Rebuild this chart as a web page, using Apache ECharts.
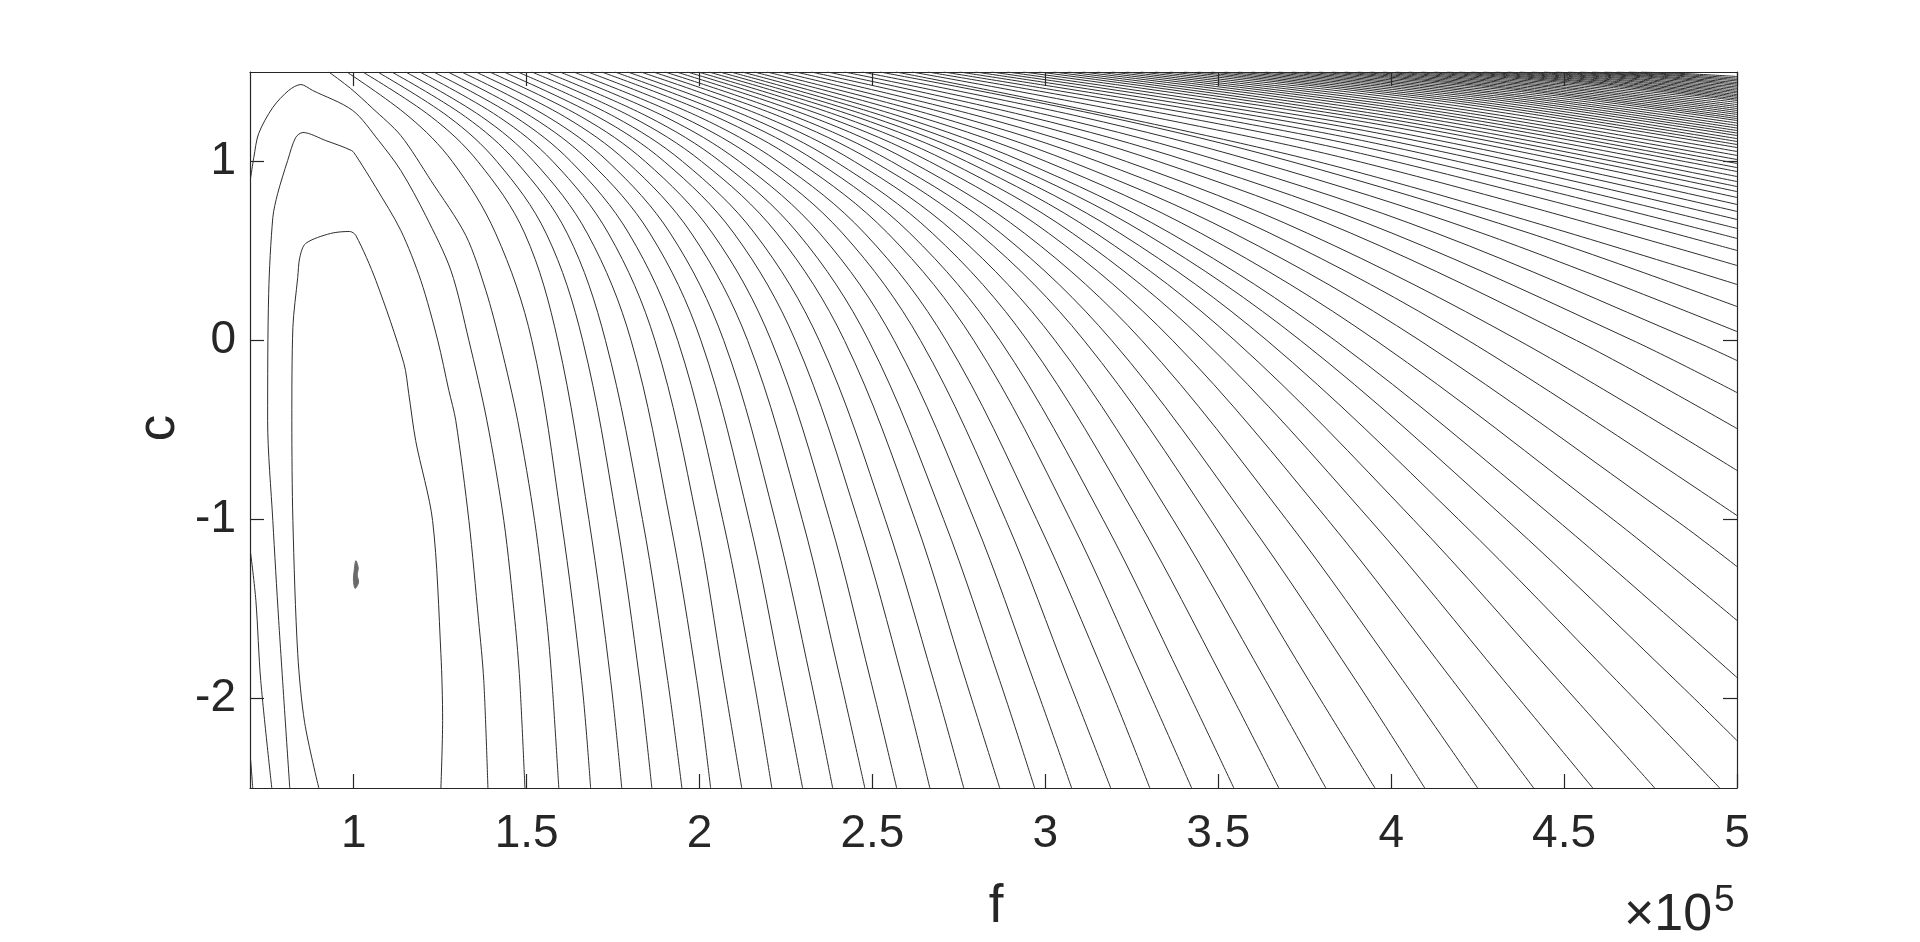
<!DOCTYPE html>
<html>
<head>
<meta charset="utf-8">
<title>f - c contour</title>
<script src="https://cdn.jsdelivr.net/npm/echarts@6/dist/echarts.min.js"></script>
<style>
  html, body { margin: 0; padding: 0; background: #fff; }
  #main { width: 1920px; height: 942px; }
</style>
</head>
<body>
<div id="main"></div>
<script>
// axis ticks (f is in units of 1e5)
var xTicks = [1, 1.5, 2, 2.5, 3, 3.5, 4, 4.5, 5];
var yTicks = [-2, -1, 0, 1];

// inner contour levels, read point by point [f, c]
var contourA = [[0.899,-2.5],[0.858,-2.134],[0.838,-1.749],[0.824,-1.006],[0.821,-0.447],[0.824,0.073],
  [0.838,0.352],[0.844,0.464],[0.861,0.542],[0.933,0.598],[0.988,0.609],[1.006,0.587],[1.064,0.335],
  [1.145,-0.128],[1.159,-0.296],[1.179,-0.559],[1.228,-1.006],[1.252,-1.749],[1.257,-2.123],[1.252,-2.5]];
var contourB = [[0.815,-2.5],[0.783,-1.564],[0.766,-1.006],[0.751,-0.447],[0.754,0.263],[0.766,0.687],
  [0.780,0.821],[0.809,1.006],[0.832,1.134],[0.853,1.162],[0.919,1.117],[0.994,1.061],[1.006,1.034],
  [1.064,0.855],[1.136,0.615],[1.194,0.335],[1.243,0],[1.275,-0.279],[1.295,-0.447],[1.333,-1.006],
  [1.361,-1.564],[1.376,-1.899],[1.388,-2.5]];
var contourC1 = [[0.702,-1.19],[0.717,-1.453],[0.731,-1.899],[0.763,-2.5]];
var contourC2 = [[0.702,0.911],[0.711,1.022],[0.725,1.156],[0.766,1.302],[0.812,1.397],[0.847,1.430],
  [0.881,1.397],[0.997,1.285],[1.072,1.117],[1.136,0.950],[1.208,0.698],[1.281,0.391],[1.333,0],
  [1.385,-0.447],[1.434,-1.006],[1.466,-1.564],[1.480,-1.899],[1.495,-2.5]];
var contourD1 = [[0.702,-2.346],[0.708,-2.5]];
var contourD2 = [[0.928,1.5],[0.991,1.408],[1.055,1.296],[1.136,1.145],[1.223,0.894],[1.324,0.587],
  [1.382,0.279],[1.425,-0.028],[1.474,-0.447],[1.523,-1.006],[1.558,-1.564],[1.573,-1.899],[1.593,-2.5]];
// small closed level around the minimum
var minPatch = [[1.006,-1.23],[1.013,-1.27],[1.010,-1.31],[1.014,-1.35],[1.004,-1.385],[0.999,-1.34],[1.001,-1.29]];

// open levels 5..44: f where each one crosses the rows c = rowC
var rowC = [1.5, 1.25, 1.0, 0.6, 0, -1.0, -1.9, -2.5];
var rowTop = [0.980,1.026,1.069,1.110,1.150,1.191,1.231,1.272,1.312,1.353,1.393,1.434,1.474,1.515,1.555,
  1.596,1.636,1.677,1.717,1.755,1.792,1.830,1.866,1.900,1.933,1.965,1.996,2.027,2.058,2.090,2.123,2.158,
  2.195,2.235,2.278,2.323,2.370,2.419,2.470,2.522];
var row125 = [1.160,1.224,1.274,1.323,1.370,1.419,1.466,1.514,1.561,1.610,1.658,1.706,1.754,1.803,1.851,
  1.900,1.949,1.998,2.048,2.094,2.141,2.188,2.234,2.278,2.323,2.367,2.410,2.453,2.495,2.538,2.583,2.635,
  2.690,2.750,2.814,2.885,2.954,3.027,3.102,3.179];
var row100 = [1.285,1.359,1.414,1.469,1.521,1.576,1.628,1.682,1.735,1.789,1.843,1.898,1.951,2.006,2.060,
  2.115,2.172,2.227,2.285,2.339,2.393,2.448,2.503,2.555,2.610,2.665,2.719,2.772,2.824,2.879,2.935,3.002,
  3.073,3.152,3.234,3.327,3.417,3.512,3.609,3.710];
var row060 = [1.410,1.494,1.556,1.617,1.675,1.736,1.795,1.856,1.915,1.976,2.037,2.099,2.159,2.223,2.284,
  2.347,2.413,2.477,2.544,2.608,2.673,2.739,2.807,2.871,2.939,3.009,3.078,3.146,3.215,3.287,3.361,3.449,
  3.544,3.649,3.757,3.883,4.002,4.130,4.262,4.399];
var row000 = [1.515,1.590,1.662,1.728,1.802,1.871,1.937,2.004,2.070,2.139,2.207,2.277,2.346,2.419,2.489,
  2.563,2.639,2.713,2.793,2.869,2.948,3.028,3.112,3.192,3.279,3.368,3.458,3.548,3.641,3.738,3.838,3.956,
  4.083,4.223,4.369,4.536,4.699,4.873];
var rowM100 = [1.600,1.680,1.760,1.835,1.914,1.992,2.067,2.143,2.218,2.297,2.376,2.457,2.537,2.623,2.706,
  2.794,2.885,2.975,3.072,3.167,3.267,3.369,3.477,3.583,3.697,3.816,3.938,4.064,4.195,4.333,4.477,4.642,4.820];
var rowM190 = [1.659,1.743,1.827,1.908,1.992,2.070,2.157,2.238,2.322,2.408,2.495,2.588,2.677,2.770,2.868,
  2.966,3.068,3.178,3.285,3.397,3.516,3.637,3.762,3.898,4.034,4.178,4.326,4.485,4.652,4.823];
var rowM250 = [1.685,1.775,1.862,1.949,2.032,2.122,2.209,2.298,2.385,2.478,2.570,2.666,2.764,2.868,2.969,
  3.076,3.189,3.302,3.423,3.545,3.675,3.811,3.953,4.097,4.250,4.412,4.583,4.762,4.950];
// c where levels 34..44 leave through the right edge (f = 5)
var famExitC = [-2.235,-1.883,-1.564,-1.263,-0.978,-0.726,-0.492,-0.291,-0.112,0.050,0.190];

// upper levels 45..100: top crossing, one point inside, right-edge exit
var upTopF = [2.568,2.614,2.660,2.706,2.752,2.798,2.844,2.890,2.936,2.982,3.024,3.066,3.108,3.150,3.192,
  3.234,3.276,3.318,3.360,3.402,3.441,3.480,3.519,3.558,3.597,3.636,3.675,3.714,3.753,3.792,3.829,3.866,
  3.903,3.940,3.977,4.014,4.051,4.088,4.125,4.162,4.197,4.232,4.267,4.302,4.337,4.372,4.407,4.442,4.477,
  4.512,4.547,4.582,4.617,4.652,4.687,4.722];
var upMidF = [3.784,3.807,3.830,3.853,3.876,3.899,3.922,3.945,3.968,3.991,4.012,4.033,4.054,4.075,4.096,
  4.117,4.138,4.159,4.180,4.201,4.221,4.240,4.260,4.279,4.299,4.318,4.338,4.357,4.377,4.396,4.415,4.433,
  4.452,4.470,4.489,4.507,4.526,4.544,4.563,4.581,4.599,4.616,4.634,4.651,4.669,4.686,4.704,4.721,4.739,
  4.756,4.774,4.791,4.809,4.826,4.844,4.861];
var upMidC = [1.001,1.046,1.081,1.109,1.133,1.154,1.173,1.189,1.206,1.219,1.231,1.243,1.255,1.266,1.276,
  1.285,1.295,1.304,1.314,1.323,1.330,1.337,1.344,1.351,1.357,1.363,1.369,1.374,1.380,1.386,1.391,1.395,
  1.400,1.405,1.410,1.414,1.419,1.424,1.429,1.433,1.437,1.440,1.444,1.447,1.451,1.454,1.458,1.461,1.465,
  1.469,1.472,1.475,1.479,1.482,1.486,1.490];
var upExitC = [0.313,0.419,0.503,0.570,0.626,0.676,0.721,0.760,0.799,0.832,0.860,0.888,0.916,0.944,0.966,
  0.989,1.011,1.034,1.056,1.078,1.095,1.112,1.128,1.145,1.159,1.173,1.187,1.201,1.215,1.229,1.240,1.251,
  1.263,1.274,1.285,1.296,1.307,1.318,1.330,1.341,1.349,1.358,1.366,1.374,1.383,1.391,1.399,1.408,1.416,
  1.425,1.433,1.441,1.450,1.458,1.466,1.475];

var ink = '#262626';
var lineColor = '#2e2e2e';
var fontFam = '"Liberation Sans", Arial, Helvetica, sans-serif';

var chart = echarts.init(document.getElementById('main'));
var series = [];

function addLine(pts, smooth) {
  series.push({
    type: 'line', data: pts, symbol: 'none', showSymbol: false, smooth: smooth,
    silent: true, clip: true, animation: false,
    lineStyle: { color: lineColor, width: 1 }
  });
}

[contourA, contourB, contourC1, contourC2, contourD1, contourD2].forEach(function (c) { addLine(c, 0.3); });

// open levels built from the row readings
var famRows = [rowTop, row125, row100, row060, row000, rowM100, rowM190, rowM250];
var exitStart = rowTop.length - famExitC.length;
for (var i = 0; i < rowTop.length; i++) {
  var pts = [];
  famRows.forEach(function (row, r) {
    if (i < row.length) pts.push([row[i], rowC[r]]);
  });
  if (i >= exitStart) pts.push([5, famExitC[i - exitStart]]);
  pts.sort(function (a, b) { return b[1] - a[1]; });
  addLine(pts, 0.35);
}

for (var j = 0; j < upTopF.length; j++) {
  addLine([[upTopF[j], 1.5], [upMidF[j], upMidC[j]], [5, upExitC[j]]], 0.35);
}

series.push({
  type: 'custom', silent: true, data: [0],
  renderItem: function (params, api) {
    return {
      type: 'polygon',
      shape: { points: minPatch.map(function (p) { return api.coord(p); }), smooth: 0.3 },
      style: { fill: '#6a6a6a', stroke: '#6a6a6a', lineWidth: 1 }
    };
  }
});

function xAx(pos, labels) {
  return {
    type: 'value', position: pos, min: 0.7, max: 5,
    axisLine: { show: true, onZero: false, lineStyle: { color: ink, width: 1.2 } },
    axisTick: { show: true, inside: true, length: 14, customValues: xTicks, lineStyle: { color: ink, width: 1.2 } },
    axisLabel: { show: labels, customValues: xTicks, margin: 23, fontSize: 46, color: ink, fontFamily: fontFam },
    splitLine: { show: false }
  };
}
function yAx(pos, labels) {
  return {
    type: 'value', position: pos, min: -2.5, max: 1.5,
    axisLine: { show: true, onZero: false, lineStyle: { color: ink, width: 1.2 } },
    axisTick: { show: true, inside: true, length: 14, customValues: yTicks, lineStyle: { color: ink, width: 1.2 } },
    axisLabel: { show: labels, customValues: yTicks, margin: 14, fontSize: 46, color: ink, fontFamily: fontFam },
    splitLine: { show: false }
  };
}

chart.setOption({
  animation: false,
  backgroundColor: '#ffffff',
  grid: { left: 250, top: 72, width: 1487, height: 716, containLabel: false },
  xAxis: [xAx('bottom', true), xAx('top', false)],
  yAxis: [yAx('left', true), yAx('right', false)],
  series: series,
  graphic: [
    { type: 'text', x: 996, y: 907, style: { text: 'f', font: '53px ' + fontFam, fill: ink, align: 'center', verticalAlign: 'middle' } },
    { type: 'text', x: 159, y: 428, rotation: Math.PI / 2, style: { text: 'c', font: '53px ' + fontFam, fill: ink, align: 'center', verticalAlign: 'middle' } },
    { type: 'text', x: 1624, y: 916, style: { text: '\u00d710', font: '52px ' + fontFam, fill: ink, align: 'left', verticalAlign: 'middle' } },
    { type: 'text', x: 1714, y: 901, style: { text: '5', font: '37px ' + fontFam, fill: ink, align: 'left', verticalAlign: 'middle' } }
  ]
});
</script>
</body>
</html>
